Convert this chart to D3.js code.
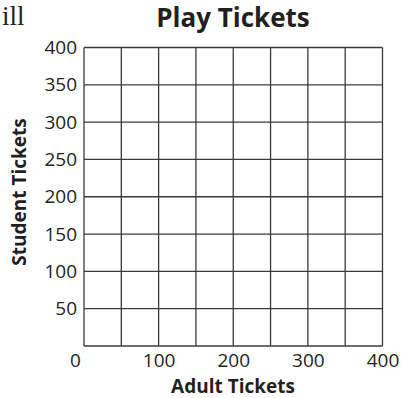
<!DOCTYPE html>
<html>
<head>
<meta charset="utf-8">
<script src="https://cdn.jsdelivr.net/npm/d3@7"></script>
<style>
  html, body { margin: 0; padding: 0; background: #fff; }
  svg { display: block; }
</style>
</head>
<body>
<svg id="chart" width="404" height="398"></svg>
<script>
// Axis setup for the blank ticket grid
const xDomain = [0, 400];
const yDomain = [0, 400];
const xTickLabels = [0, 100, 200, 300, 400];
const yTickLabels = [50, 100, 150, 200, 250, 300, 350, 400];
const gridStep = [0, 50, 100, 150, 200, 250, 300, 350, 400];

const titleText = "Play Tickets";
const xTitle = "Adult Tickets";
const yTitle = "Student Tickets";

const svg = d3.select("#chart");
const plot = { left: 84, right: 382.5, top: 47.5, bottom: 346 };
const sans = "'Open Sans', 'Noto Sans', sans-serif";
const ink = "#231f20";

const x = d3.scaleLinear().domain(xDomain).range([plot.left, plot.right]);
const y = d3.scaleLinear().domain(yDomain).range([plot.bottom, plot.top]);

// fragment of running text above the chart
svg.append("text")
  .attr("x", 2).attr("y", 25)
  .attr("font-family", "'Liberation Serif', 'DejaVu Serif', serif")
  .attr("font-size", 27)
  .attr("fill", ink)
  .text("ill");

// grid lines
const grid = svg.append("g").attr("stroke", "#3a3a3a").attr("stroke-width", 1.3).attr("fill", "none");
grid.selectAll("line.v").data(gridStep).join("line")
  .attr("class", "v")
  .attr("x1", d => x(d)).attr("x2", d => x(d))
  .attr("y1", y(yDomain[0])).attr("y2", y(yDomain[1]));
grid.selectAll("line.h").data(gridStep).join("line")
  .attr("class", "h")
  .attr("x1", x(xDomain[0])).attr("x2", x(xDomain[1]))
  .attr("y1", d => y(d)).attr("y2", d => y(d));

// y axis labels
const yAxis = d3.axisLeft(y).tickValues(yTickLabels).tickSize(0).tickPadding(7);
const gy = svg.append("g").attr("transform", `translate(${plot.left},0)`).call(yAxis);
gy.select(".domain").remove();
gy.selectAll("text")
  .attr("font-family", sans).attr("font-size", 19).attr("fill", ink);

// x axis labels
const xAxis = d3.axisBottom(x).tickValues(xTickLabels).tickSize(0).tickPadding(8);
const gx = svg.append("g").attr("transform", `translate(0,${plot.bottom})`).call(xAxis);
gx.select(".domain").remove();
gx.selectAll("text")
  .attr("font-family", sans).attr("font-size", 19).attr("fill", ink)
  .attr("dx", d => d === 0 ? -9 : 0);

// titles
svg.append("text")
  .attr("x", 233).attr("y", 27)
  .attr("text-anchor", "middle")
  .attr("font-family", sans).attr("font-weight", 700).attr("font-size", 26)
  .attr("fill", ink)
  .text(titleText);

svg.append("text")
  .attr("x", 233).attr("y", 393)
  .attr("text-anchor", "middle")
  .attr("font-family", sans).attr("font-weight", 700).attr("font-size", 19)
  .attr("fill", ink)
  .text(xTitle);

svg.append("text")
  .attr("transform", "translate(26,192) rotate(-90)")
  .attr("text-anchor", "middle")
  .attr("font-family", sans).attr("font-weight", 700).attr("font-size", 19)
  .attr("fill", ink)
  .text(yTitle);
</script>
</body>
</html>
